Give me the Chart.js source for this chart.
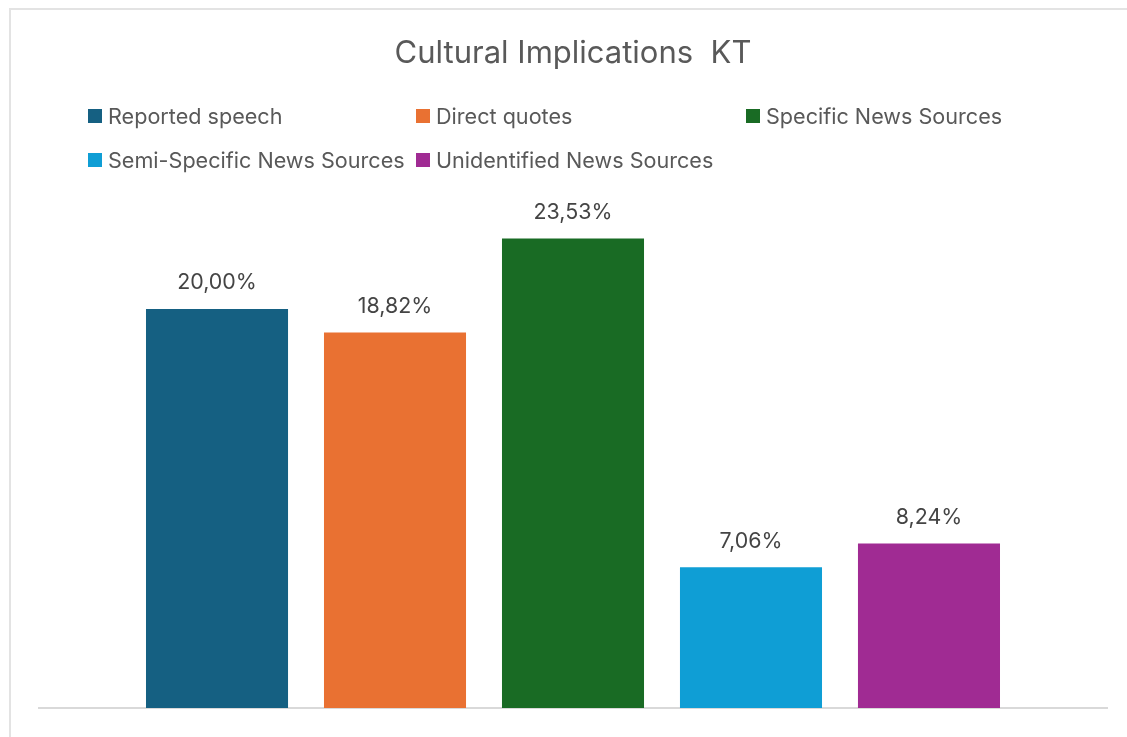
<!DOCTYPE html>
<html>
<head>
<meta charset="utf-8">
<title>Cultural Implications KT</title>
<script src="https://cdn.jsdelivr.net/npm/chart.js@4.4.1/dist/chart.umd.min.js"></script>
<style>
  html, body { margin: 0; padding: 0; background: #fff; overflow: hidden; }
  #wrap { position: relative; width: 1127px; height: 737px; }
  #frame {
    position: absolute; left: 9px; top: 8px; right: -10px; bottom: -10px;
    border-left: 2px solid #e3e3e3; border-top: 2px solid #e3e3e3;
  }
  #chart { position: absolute; left: 0; top: 0; }
</style>
</head>
<body>
<div id="wrap">
  <div id="frame"></div>
  <canvas id="chart" width="1127" height="737"></canvas>
</div>
<script>
const seriesNames = ['Reported speech', 'Direct quotes', 'Specific News Sources',
  'Semi-Specific News Sources', 'Unidentified News Sources'];
const seriesValues = [20.00, 18.82, 23.53, 7.06, 8.24];
const seriesColors = ['#156082', '#E97132', '#196B24', '#0F9ED5', '#A02B93'];

const fontFamily = 'Inter, "Open Sans", sans-serif';
const textColor = '#595959';

// percentage with a decimal comma, e.g. 20,00%
const fmt = v => v.toFixed(2).replace('.', ',') + '%';

// value labels above each bar
const barLabels = {
    id: 'barLabels',
    afterDatasetsDraw(chart) {
        const ctx = chart.ctx;
        ctx.save();
        ctx.font = '21.4px ' + fontFamily;
        ctx.fillStyle = '#444444';
        ctx.textAlign = 'center';
        ctx.textBaseline = 'middle';
        chart.data.datasets.forEach((ds, i) => {
            const bar = chart.getDatasetMeta(i).data[0];
            ctx.fillText(fmt(ds.data[0]), bar.x, bar.y - 26);
        });
        ctx.restore();
    }
};

// legend laid out in three fixed columns
const gridLegend = {
    id: 'gridLegend',
    afterDraw(chart) {
        const ctx = chart.ctx;
        const colX = [88, 416, 746];
        const rowY = [116, 160];
        ctx.save();
        ctx.font = '21.6px ' + fontFamily;
        ctx.textBaseline = 'middle';
        chart.data.datasets.forEach((ds, i) => {
            const x = colX[i % 3];
            const y = rowY[Math.floor(i / 3)];
            ctx.fillStyle = ds.backgroundColor;
            ctx.fillRect(x, y - 7, 14, 14);
            ctx.fillStyle = textColor;
            ctx.fillText(ds.label, x + 20, y + 1);
        });
        ctx.restore();
    }
};

const datasets = seriesNames.map((name, i) => ({
    label: name,
    data: [seriesValues[i]],
    backgroundColor: seriesColors[i],
    borderWidth: 0,
    categoryPercentage: 0.8333,
    barPercentage: 0.798,
}));

new Chart(document.getElementById('chart'), {
    type: 'bar',
    data: { labels: [''], datasets: datasets },
    options: {
        responsive: false,
        animation: false,
        layout: { padding: { left: 39, right: 20, top: 0, bottom: 29 } },
        scales: {
            x: {
                grid: { display: false, drawTicks: false },
                border: { display: true, color: '#d9d9d9', width: 2 },
                ticks: { display: false },
            },
            y: {
                display: false,
                min: 0,
                max: 25,
            },
        },
        plugins: {
            legend: { display: false },
            tooltip: { enabled: false },
            title: {
                display: true,
                text: 'Cultural Implications  KT',
                color: textColor,
                font: { family: fontFamily, size: 31, weight: 'normal', lineHeight: 1.2 },
                padding: { top: 35, bottom: 137 },
            },
        },
    },
    plugins: [barLabels, gridLegend],
});
</script>
</body>
</html>
